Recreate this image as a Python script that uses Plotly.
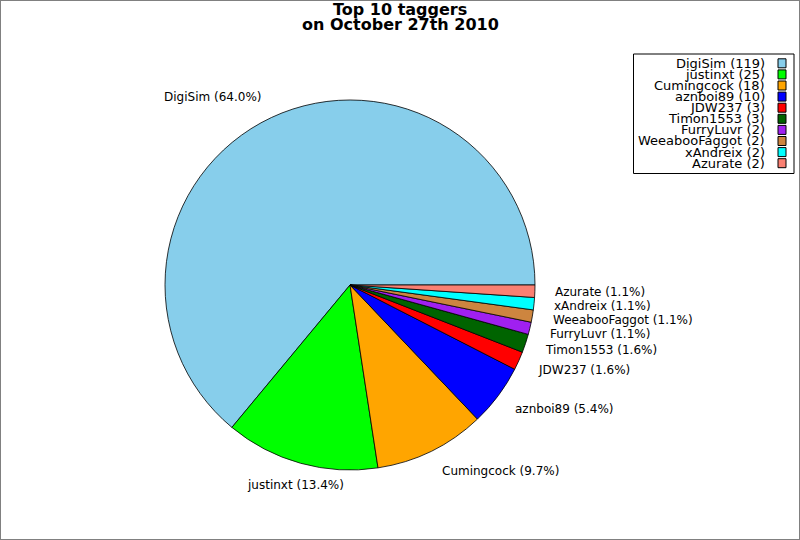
import math
import plotly.graph_objects as go

names = ["DigiSim", "justinxt", "Cumingcock", "aznboi89", "JDW237",
         "Timon1553", "FurryLuvr", "WeeabooFaggot", "xAndreix", "Azurate"]
counts = [119, 25, 18, 10, 3, 3, 2, 2, 2, 2]
colors = ["#87CEEB", "#00FF00", "#FFA500", "#0000FF", "#FF0000",
          "#006400", "#A020F0", "#CD853F", "#00FFFF", "#FA8072"]
title_lines = ["Top 10 taggers", "on October 27th 2010"]

W, H = 800, 540
CX, CY, R = 350, 285, 185
FONT = "DejaVu Sans"


def px(x):
    return x / W


def py(y):
    return 1 - y / H


total = sum(counts)
# plotly (counterclockwise) puts the end of the first slice at `rotation`
# (degrees clockwise from 12 o'clock); we want the first slice to start at 3 o'clock
rot = (90 - 360 * counts[0] / total) % 360

fig = go.Figure()
fig.add_trace(go.Pie(
    labels=names, values=counts, sort=False, direction="counterclockwise",
    rotation=rot, textinfo="none", hoverinfo="label+value+percent",
    marker=dict(colors=colors, line=dict(color="black", width=0.8)),
    domain=dict(x=[px(CX - R), px(CX + R)], y=[py(CY + R), py(CY - R)]),
    showlegend=False,
))

annotations = []
shapes = []

# slice labels at ~1.1 * radius, mid-angle of each slice
cum = 0
for i, (n, c) in enumerate(zip(names, counts)):
    mid = (cum + c / 2) / total * 2 * math.pi
    cum += c
    xt = CX + 1.1 * R * math.cos(mid)
    yt = CY - (1.1 * R + 4) * math.sin(mid)
    if n == "justinxt":
        anchor = "center"
    else:
        anchor = "left" if math.cos(mid) > 0 else "right"
    annotations.append(dict(
        x=px(xt), y=py(yt), xref="paper", yref="paper",
        text=f"{n} ({100 * c / total:.1f}%)", showarrow=False,
        xanchor=anchor, yanchor="middle",
        font=dict(family=FONT, size=12, color="black"),
    ))

# title
for j, t in enumerate(title_lines):
    annotations.append(dict(
        x=0.5, y=py(10 + 14.3 * j), xref="paper", yref="paper",
        text=f"<b>{t}</b>", showarrow=False, xanchor="center", yanchor="middle",
        font=dict(family=FONT, size=16, color="black"),
    ))

# legend box
shapes.append(dict(type="rect", xref="paper", yref="paper",
                   x0=px(633.5), x1=px(794), y0=py(54), y1=py(173.5),
                   line=dict(color="black", width=1), fillcolor="white"))
for i, (n, c) in enumerate(zip(names, counts)):
    yc = 63.3 + i * 11.1
    annotations.append(dict(
        x=px(767), y=py(yc), xref="paper", yref="paper",
        text=f"{n} ({c})", showarrow=False, xanchor="right", yanchor="middle",
        font=dict(family=FONT, size=13, color="black"),
    ))
    shapes.append(dict(type="rect", xref="paper", yref="paper",
                       x0=px(778), x1=px(786), y0=py(yc - 4.5), y1=py(yc + 4.5),
                       line=dict(color="black", width=1), fillcolor=colors[i]))

# outer frame
shapes.append(dict(type="rect", xref="paper", yref="paper",
                   x0=0, x1=1, y0=0, y1=1,
                   line=dict(color="#808080", width=2), fillcolor="rgba(0,0,0,0)"))

fig.update_layout(
    width=W, height=H, margin=dict(l=0, r=0, t=0, b=0),
    paper_bgcolor="white", plot_bgcolor="white",
    annotations=annotations, shapes=shapes, showlegend=False,
)
fig.write_html("out.html", config={"displayModeBar": False},
               post_script="document.body.style.margin='0';document.body.style.overflow='hidden';")
